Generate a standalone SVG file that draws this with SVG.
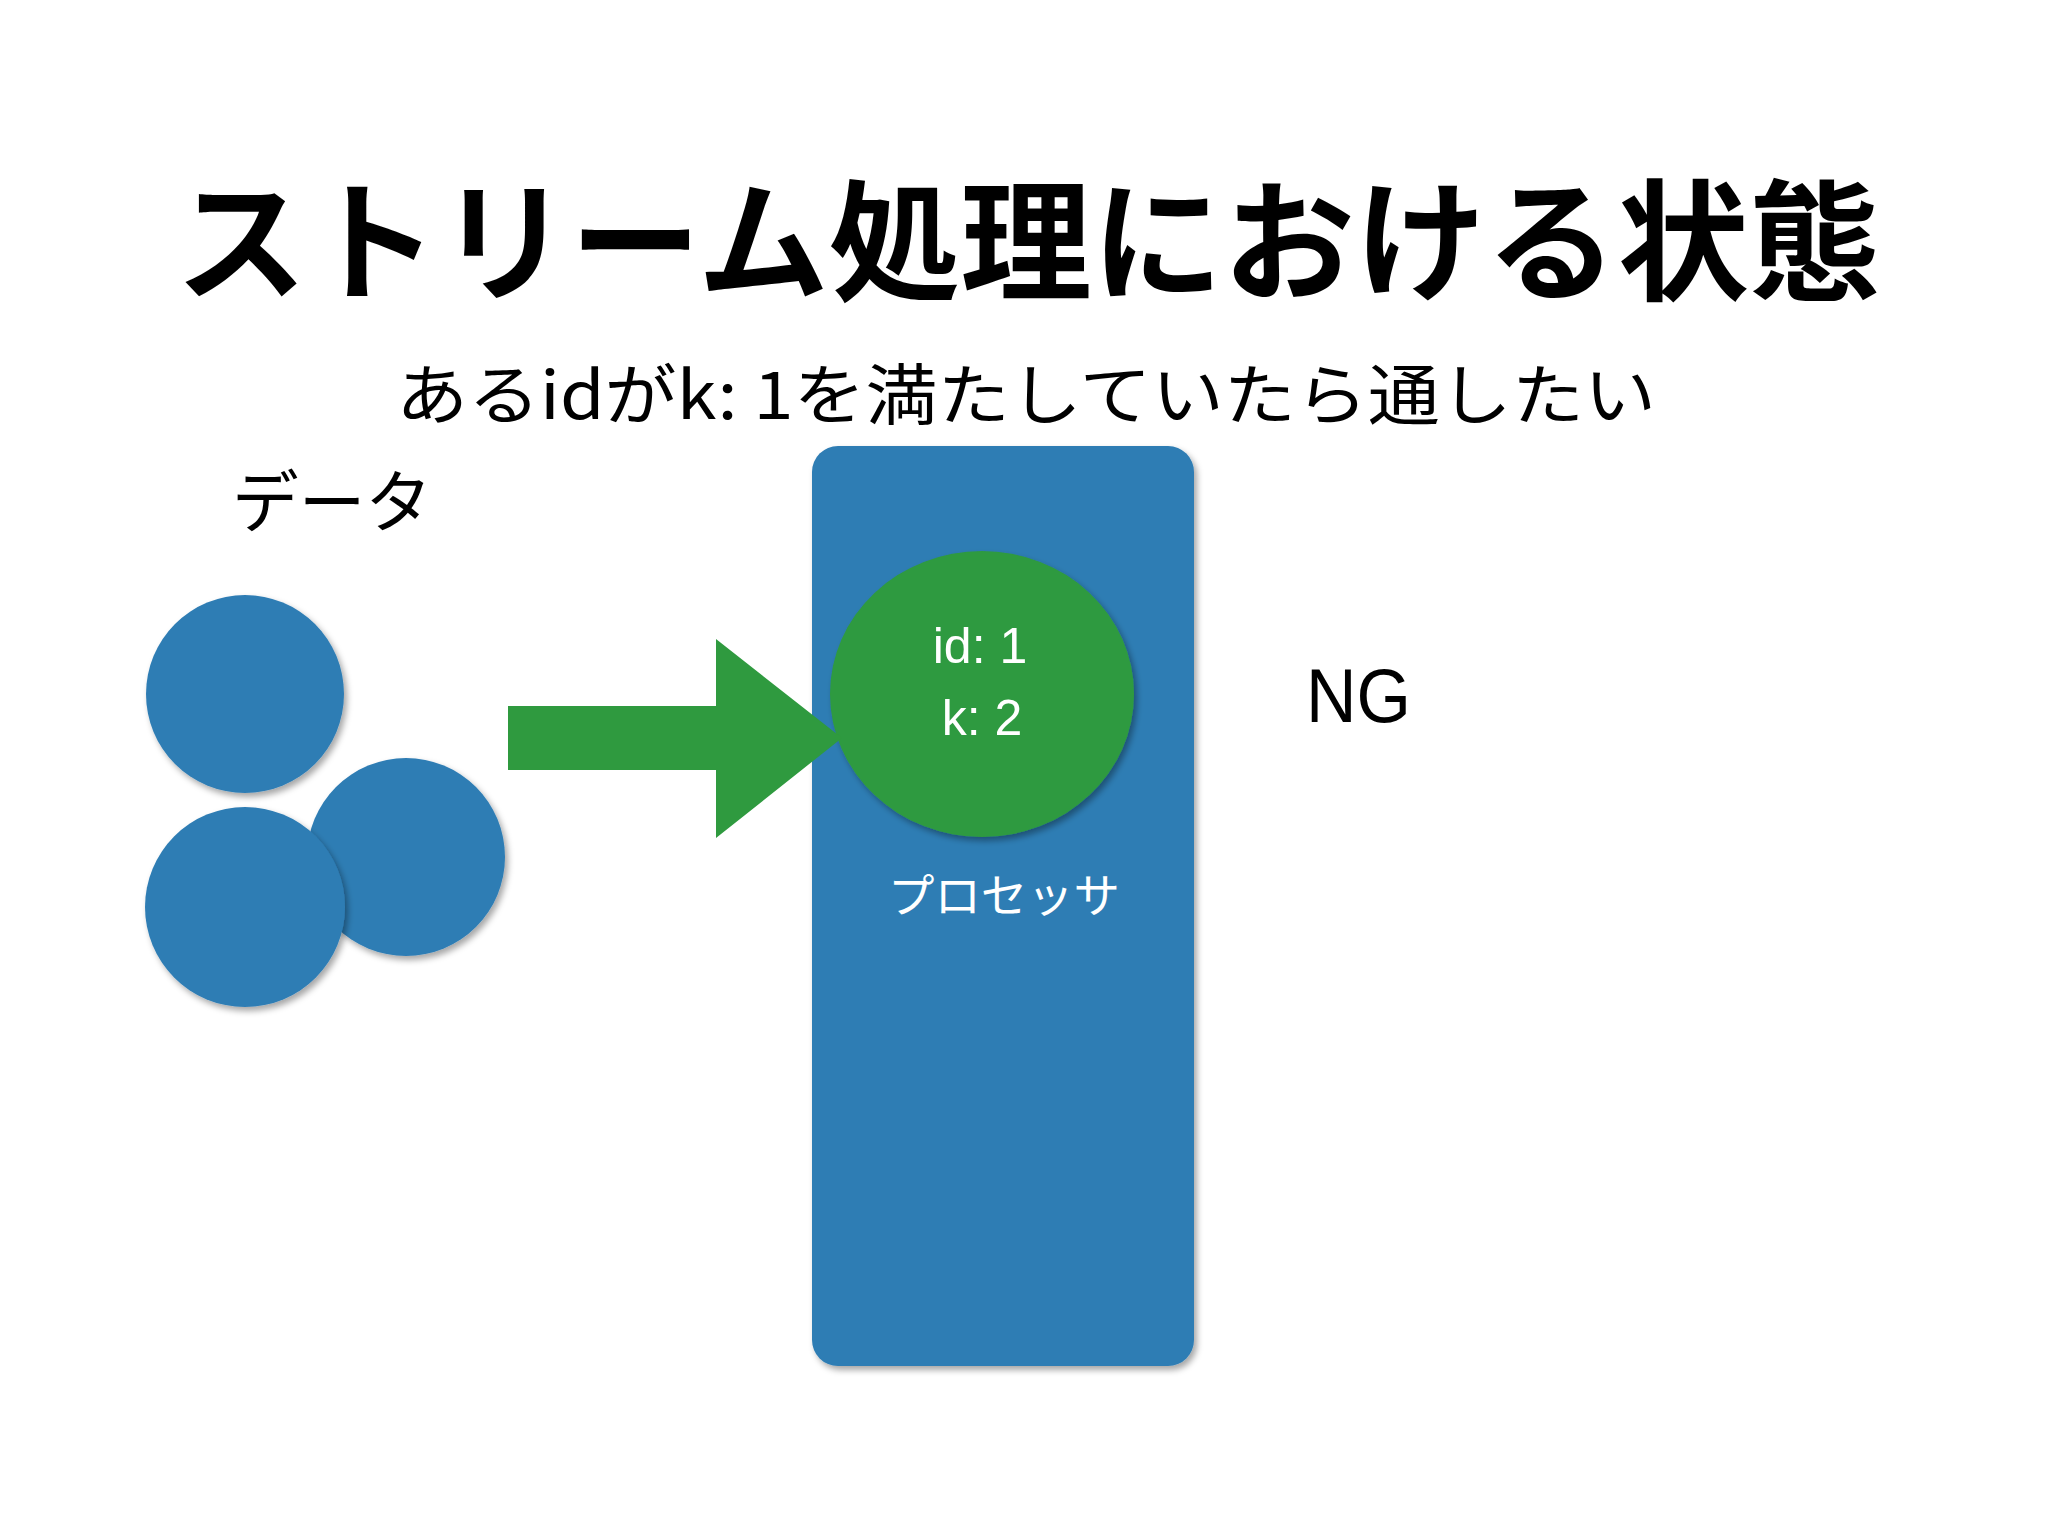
<svg xmlns="http://www.w3.org/2000/svg" width="2048" height="1536" viewBox="0 0 2048 1536">
<defs>
<style>
.jp{font-family:"Noto Sans CJK JP","Noto Sans",sans-serif;}
.lat{font-family:"Liberation Sans","Noto Sans CJK JP",sans-serif;}
.blue{fill:#2f7db4;}
.green{fill:#2f9a3f;}
</style>
<filter id="sh" x="-20%" y="-20%" width="140%" height="140%">
<feDropShadow dx="3" dy="4" stdDeviation="3" flood-color="#000" flood-opacity="0.35"/>
</filter>
</defs>
<rect width="2048" height="1536" fill="#ffffff"/>
<g id="title">
<text class="jp" x="1028" y="290" font-size="131" font-weight="bold" text-anchor="middle" textLength="1705" lengthAdjust="spacingAndGlyphs">ストリーム処理における状態</text>
</g>
<g id="subtitle">
<text class="jp" x="1026" y="419" font-size="66" text-anchor="middle" textLength="1260" lengthAdjust="spacingAndGlyphs">あるidがk: 1を満たしていたら通したい</text>
</g>
<g id="data-label">
<text class="jp" x="232" y="527" font-size="68" textLength="200" lengthAdjust="spacingAndGlyphs">データ</text>
</g>
<g id="data">
<circle class="blue" cx="245" cy="694" r="99" filter="url(#sh)"/>
<circle class="blue" cx="406" cy="857" r="99" filter="url(#sh)"/>
<circle class="blue" cx="245" cy="907" r="100" filter="url(#sh)"/>
</g>
<g id="processor">
<rect class="blue" x="812" y="446" width="382" height="920" rx="26" ry="26" filter="url(#sh)"/>
<text class="jp" x="1004" y="912" font-size="46" fill="#ffffff" text-anchor="middle" textLength="232" lengthAdjust="spacingAndGlyphs">プロセッサ</text>
</g>
<g id="state">
<ellipse class="green" cx="982" cy="694" rx="152" ry="143" filter="url(#sh)"/>
<text class="lat" x="980" y="663" font-size="50" fill="#ffffff" text-anchor="middle">id: 1</text>
<text class="lat" x="982" y="735" font-size="50" fill="#ffffff" text-anchor="middle">k: 2</text>
</g>
<g id="connectors">
<path class="green" d="M508 706 L716 706 L716 639 L842 738 L716 838 L716 770 L508 770 Z"/>
</g>
<g id="ng">
<text class="lat" x="1306" y="722" font-size="76" fill="#000000" textLength="105" lengthAdjust="spacingAndGlyphs">NG</text>
</g>
</svg>
